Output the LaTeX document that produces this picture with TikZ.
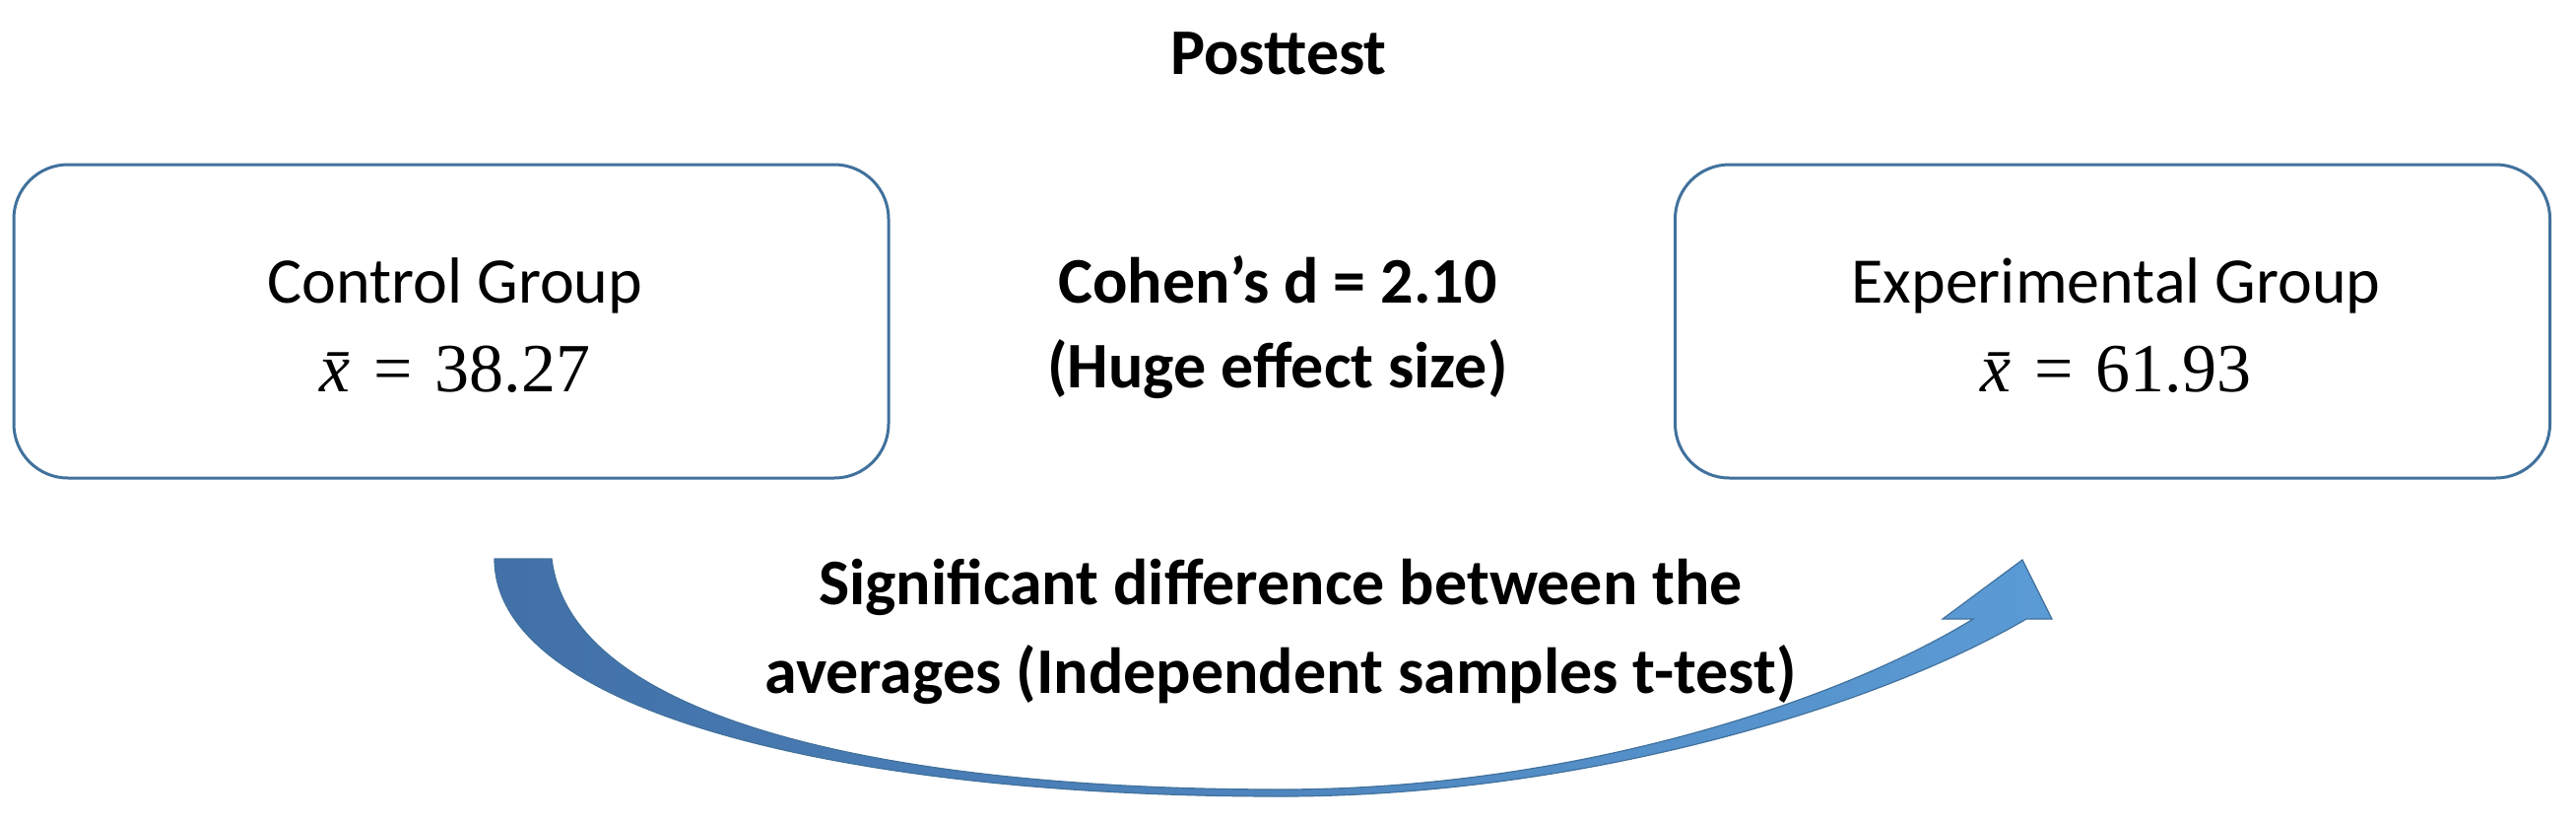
\documentclass[tikz,border=0pt]{standalone}
\usepackage{fontspec}
\setmainfont{Carlito}
\newfontfamily\meanfont{Liberation Serif}
\definecolor{boxblue}{RGB}{65,113,156}
\definecolor{arrowL}{RGB}{66,112,168}
\definecolor{arrowR}{RGB}{91,155,213}
\newcommand{\xbarmean}[1]{{\itshape x\char"0304}\,\,=\,\,#1}
\begin{document}
\begin{tikzpicture}[x=1pt,y=-1pt,
  groupbox/.style={draw=boxblue, line width=3pt, rounded corners=55pt,
    minimum width=888pt, minimum height=318pt, inner sep=0pt},
  txt/.style={anchor=base, inner sep=0pt, font=\fontsize{66}{80}\selectfont},
  btxt/.style={anchor=base, inner sep=0pt, font=\fontsize{66}{80}\selectfont\bfseries},
  mtxt/.style={anchor=base, inner sep=0pt, font=\fontsize{70}{84}\selectfont\meanfont},
  bigarrow/.style={left color=arrowL, right color=arrowR, draw=boxblue, line width=1.2pt}]
\useasboundingbox (0,0) rectangle (2615,833);
\node[btxt] (title) at (1298,75) {Posttest};
\node[groupbox] (ctl) at (458,326) {};
\node[groupbox] (exp) at (2144.5,326) {};
\node[txt] (ctlname) at (462,307) {Control Group};
\node[mtxt] (ctlmean) at (462,397) {\xbarmean{38.27}};
\node[txt] (expname) at (2148,307) {Experimental Group};
\node[mtxt] (expmean) at (2148,397) {\xbarmean{61.93}};
\node[btxt] (d1) at (1297,307) {Cohen’s d = 2.10};
\node[btxt] (d2) at (1297,393) {(Huge effect size)};
\node[btxt] (s1) at (1300,613) {Significant difference between the};
\node[btxt] (s2) at (1300,703) {averages (Independent samples t-test)};
\coordinate (astart) at (502,567);
\coordinate (atip) at (2053,568);
\shadedraw[bigarrow]
  (astart) .. controls (502,720) and (850,808) .. (1300,808)
  .. controls (1600,808) and (1900,720) .. (2057,628)
  -- (2083,628) -- (atip) -- (1972,628) -- (2003,628)
  .. controls (1870,710) and (1600,801) .. (1300,801)
  .. controls (900,801) and (580,730) .. (560,567) -- cycle;
\end{tikzpicture}
\end{document}
